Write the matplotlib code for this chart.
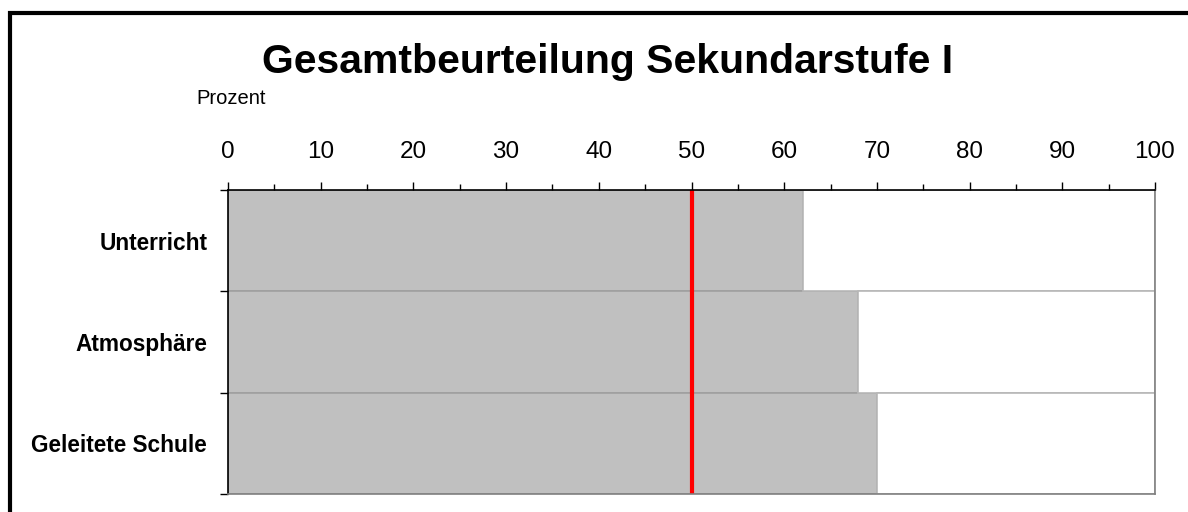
import matplotlib
matplotlib.use("Agg")
from matplotlib import pyplot as plt
from matplotlib.patches import Rectangle
from matplotlib.ticker import MultipleLocator
import numpy as np

categories = ["Unterricht", "Atmosphäre", "Geleitete Schule"]
values = [62, 68, 70]
reference = 50
full_scale = 100
x_ticks = [0, 10, 20, 30, 40, 50, 60, 70, 80, 90, 100]

plt.rcParams["font.family"] = ["Liberation Sans", "DejaVu Sans"]

fig = plt.figure(figsize=(11.88, 5.12), dpi=100)
ax = fig.add_axes([228 / 1188, 1 - 494 / 512, 927 / 1188, 304 / 512])

# Stacked bars: grey value plus white remainder up to 100
y = np.arange(len(categories))
rest = [full_scale - v for v in values]
ax.barh(y, values, height=1.0, color="#C0C0C0", edgecolor="#A0A0A0", linewidth=1.2)
ax.barh(y, rest, left=values, height=1.0, color="white", edgecolor="#B8B8B8", linewidth=1.2)

ax.axvline(reference, color="#FF0000", linewidth=3, zorder=5)

ax.set_xlim(0, full_scale)
ax.set_ylim(len(categories) - 0.5, -0.5)

# x axis on top
ax.xaxis.tick_top()
ax.set_xticks(x_ticks)
ax.xaxis.set_minor_locator(MultipleLocator(5))
ax.tick_params(axis="x", which="major", direction="out", length=5.5, width=1,
               pad=14, labelsize=17.5)
ax.tick_params(axis="x", which="minor", direction="out", length=4.5, width=1)

# y axis: ticks at category boundaries, labels centred on bars
ax.set_yticks(np.arange(len(categories) + 1) - 0.5)
ax.set_yticklabels([])
ax.set_yticks(y, minor=True)
ax.set_yticklabels(categories, minor=True, fontweight="bold", fontsize=16.3)
ax.tick_params(axis="y", which="major", direction="out", length=5.5, width=1)
ax.tick_params(axis="y", which="minor", length=0, pad=15)

ax.spines["left"].set_color("black")
ax.spines["top"].set_color("black")
ax.spines["right"].set_color("#808080")
ax.spines["bottom"].set_color("#808080")
for s in ax.spines.values():
    s.set_linewidth(1.2)
    s.set_zorder(6)

fig.text(608 / 1188, 1 - 62 / 512, "Gesamtbeurteilung Sekundarstufe I",
         ha="center", va="center", fontsize=29.5, fontweight="bold")
fig.text(196 / 1188, 1 - 99 / 512, "Prozent", ha="left", va="center", fontsize=14.5)

# outer chart frame (runs off the right and bottom edge)
frame = Rectangle((9.5 / 1188, -0.2), 1.2, 1.2 - 12.5 / 512, transform=fig.transFigure,
                  fill=False, edgecolor="black", linewidth=3, clip_on=False)
fig.patches.append(frame)

fig.savefig("out.png", dpi=100)
